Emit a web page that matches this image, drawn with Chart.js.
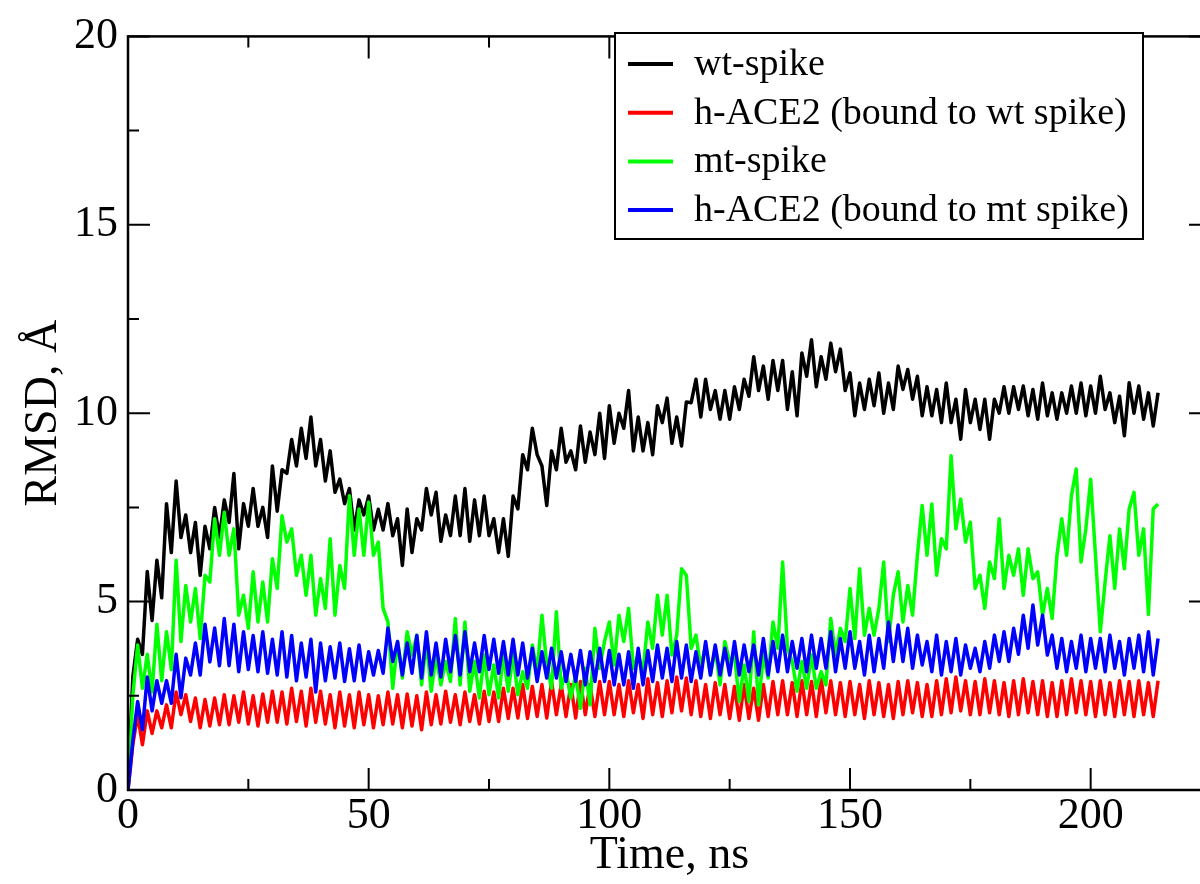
<!DOCTYPE html>
<html>
<head>
<meta charset="utf-8">
<script src="https://cdn.jsdelivr.net/npm/chart.js@4"></script>
<style>
  html, body { margin: 0; padding: 0; background: #fff; overflow: hidden; }
  #wrap { width: 1240px; height: 884px; }
</style>
</head>
<body>
<div id="wrap"><canvas id="rmsdChart" width="1240" height="884"></canvas></div>
<script>
// one sample per ns (upper / lower edge of the noise band)
const timeStepNs = 1;
const xTicks = [0, 50, 100, 150, 200];
const yTicks = [0, 5, 10, 15, 20];
const seriesNames = ['wt-spike', 'h-ACE2 (bound to wt spike)', 'mt-spike', 'h-ACE2 (bound to mt spike)'];
const seriesColors = ['#000000', '#ff0000', '#00ff00', '#0000ff'];

const wtSpike = [
  0, 3.0, 4.0, 3.6, 5.8, 4.5, 6.1, 5.1, 7.6, 6.3,
  8.2, 6.7, 7.3, 6.3, 7.1, 5.7, 7.0, 6.4, 7.5, 6.7,
  7.7, 7.1, 8.4, 6.4, 7.6, 7.0, 8.0, 7.0, 7.5, 6.7,
  8.6, 7.4, 8.5, 8.4, 9.3, 8.6, 9.6, 8.8, 9.9, 8.6,
  9.3, 8.2, 9.0, 7.9, 8.25, 7.6, 8.0, 6.9, 7.7, 7.3,
  7.8, 6.9, 7.45, 6.9, 7.6, 6.75, 7.2, 5.96, 7.46, 6.3,
  7.2, 6.9, 8.0, 7.3, 7.9, 6.6, 7.3, 6.75, 7.8, 6.75,
  8.0, 6.6, 7.7, 6.75, 7.8, 6.75, 7.2, 6.3, 7.2, 6.2,
  7.8, 7.46, 8.9, 8.5, 9.6, 8.9, 8.6, 7.55, 9.0, 8.5,
  9.6, 8.7, 9.0, 8.5, 9.66, 8.7, 9.5, 8.9, 10.0, 8.8,
  10.2, 9.2, 10.0, 9.6, 10.6, 9.0, 9.9, 9.0, 9.75, 8.9,
  10.2, 9.75, 10.4, 9.2, 9.9, 9.13, 10.3, 10.28, 10.9, 9.9,
  10.9, 10.1, 10.6, 9.84, 10.6, 9.84, 10.7, 10.1, 10.9, 10.45,
  11.5, 10.6, 11.25, 10.37, 11.4, 10.6, 11.4, 10.1, 11.1, 9.93,
  11.6, 10.98, 11.95, 10.7, 11.5, 10.9, 11.86, 11.1, 11.7, 10.6,
  11.07, 9.93, 10.8, 10.1, 10.9, 10.2, 11.07, 10.0, 10.8, 10.1,
  11.25, 10.63, 11.16, 10.37, 10.98, 9.93, 10.7, 9.93, 10.63, 9.75,
  10.8, 9.75, 10.37, 9.31, 10.63, 9.75, 10.37, 9.57, 10.37, 9.31,
  10.37, 10.0, 10.7, 10.0, 10.7, 10.1, 10.72, 9.93, 10.63, 9.84,
  10.8, 9.93, 10.54, 9.84, 10.54, 10.0, 10.72, 10.0, 10.8, 9.93,
  10.72, 10.0, 10.98, 10.1, 10.54, 9.75, 10.45, 9.4, 10.81, 10.0,
  10.72, 9.84, 10.54, 9.66, 10.54
];

const aceWt = [
  0, 1.2, 2.0, 1.2, 2.1, 1.5, 2.1, 1.65, 2.26, 1.65,
  2.6, 2.0, 2.53, 1.82, 2.44, 1.65, 2.4, 1.7, 2.44, 1.73,
  2.53, 1.73, 2.5, 1.8, 2.6, 1.75, 2.5, 1.7, 2.55, 1.8,
  2.62, 1.8, 2.6, 1.75, 2.7, 1.82, 2.62, 1.7, 2.7, 1.8,
  2.62, 1.75, 2.53, 1.65, 2.6, 1.7, 2.53, 1.65, 2.6, 1.73,
  2.53, 1.65, 2.5, 1.73, 2.6, 1.75, 2.53, 1.65, 2.55, 1.7,
  2.5, 1.6, 2.6, 1.73, 2.53, 1.75, 2.62, 1.8, 2.53, 1.73,
  2.6, 1.82, 2.53, 1.75, 2.62, 1.82, 2.6, 1.82, 2.7, 1.9,
  2.7, 1.91, 2.8, 1.9, 2.75, 1.95, 2.8, 1.91, 2.88, 2.0,
  2.79, 1.95, 2.8, 1.91, 2.88, 2.0, 2.79, 1.95, 2.88, 2.0,
  2.88, 2.0, 2.8, 1.95, 2.9, 2.05, 2.8, 1.9, 2.95, 2.0,
  2.85, 1.95, 2.9, 2.05, 3.0, 2.1, 2.97, 2.0, 2.9, 1.95,
  2.8, 1.9, 2.85, 2.0, 2.8, 1.9, 2.75, 1.85, 2.8, 1.9,
  2.7, 1.85, 2.8, 1.95, 2.88, 2.0, 2.9, 2.0, 2.85, 1.95,
  2.9, 2.0, 2.88, 1.95, 2.95, 2.05, 2.9, 2.0, 2.85, 1.95,
  2.88, 2.0, 2.8, 1.9, 2.9, 2.0, 2.85, 1.95, 2.8, 1.9,
  2.88, 2.0, 2.9, 2.05, 2.85, 1.95, 2.8, 1.95, 2.9, 2.0,
  2.95, 2.05, 3.0, 2.1, 2.9, 2.0, 2.88, 2.0, 2.95, 2.05,
  2.9, 2.0, 2.85, 1.95, 2.9, 2.0, 2.95, 2.05, 2.88, 2.0,
  2.9, 1.95, 2.85, 1.95, 2.9, 2.0, 2.95, 2.05, 2.9, 2.0,
  2.88, 1.95, 2.9, 2.0, 2.85, 1.95, 2.9, 2.0, 2.88, 1.95,
  2.9, 2.0, 2.85, 1.95, 2.9
];

const mtSpike = [
  0, 2.5, 3.85, 2.7, 3.6, 2.6, 4.4, 2.9, 4.2, 3.2,
  6.1, 3.94, 5.43, 4.46, 5.35, 4.02, 5.7, 5.52, 7.2, 6.23,
  7.37, 6.23, 6.93, 4.64, 5.17, 4.29, 5.79, 4.46, 5.52, 4.46,
  6.14, 5.35, 7.28, 6.58, 6.93, 5.7, 6.23, 5.17, 6.23, 4.64,
  5.61, 4.82, 6.67, 4.64, 5.96, 5.35, 7.81, 6.23, 7.46, 6.23,
  7.64, 6.23, 6.58, 4.82, 4.46, 2.7, 3.94, 2.97, 4.2, 3.58,
  4.11, 2.79, 3.94, 2.62, 3.58, 2.79, 3.41, 2.88, 4.55, 2.79,
  4.46, 2.62, 3.41, 2.44, 3.58, 2.53, 3.32, 2.44, 3.58, 2.62,
  3.58, 2.53, 3.14, 2.7, 3.85, 3.14, 4.64, 3.32, 2.7, 4.73,
  2.7, 3.14, 2.44, 3.05, 2.17, 3.23, 2.26, 4.29, 3.23, 3.94,
  4.46, 3.32, 4.64, 3.94, 4.82, 3.23, 3.58, 3.14, 4.46, 3.76,
  5.17, 4.11, 5.17, 3.58, 4.11, 5.87, 5.7, 3.76, 4.11, 3.23,
  3.85, 3.05, 3.76, 2.79, 3.94, 3.41, 3.58, 2.35, 3.32, 2.35,
  4.2, 2.26, 3.58, 2.97, 4.46, 3.76, 6.05, 3.76, 3.41, 2.62,
  3.41, 2.7, 3.58, 2.7, 3.14, 2.79, 4.55, 3.58, 4.29, 3.94,
  5.35, 4.02, 5.87, 4.11, 4.82, 4.11, 4.82, 6.05, 3.94, 5.17,
  5.79, 4.46, 5.43, 4.64, 6.23, 7.55, 6.23, 7.59, 5.7, 6.67,
  6.4, 8.87, 6.93, 7.72, 6.58, 7.11, 5.35, 5.7, 4.82, 6.05,
  5.61, 7.2, 5.35, 6.23, 5.7, 6.4, 5.17, 6.4, 5.61, 5.79,
  4.64, 5.35, 4.55, 6.23, 7.2, 6.23, 7.81, 8.52, 6.05, 6.93,
  8.25, 6.23, 4.2, 5.52, 6.75, 5.35, 6.93, 5.87, 7.46, 7.9,
  6.23, 6.93, 4.66, 7.46, 7.59
];

const aceMt = [
  0, 1.3, 2.35, 1.6, 3.0, 2.1, 2.9, 2.3, 2.9, 2.3,
  3.6, 2.45, 3.5, 3.05, 3.9, 3.05, 4.4, 3.4, 4.3, 3.3,
  4.55, 3.3, 4.4, 3.14, 4.2, 3.2, 4.1, 3.14, 4.2, 3.1,
  4.0, 3.05, 4.2, 3.0, 4.1, 2.9, 3.9, 3.0, 4.0, 2.6,
  3.9, 2.9, 3.8, 2.97, 3.9, 2.88, 3.75, 2.9, 3.85, 2.9,
  3.67, 3.05, 3.7, 3.1, 4.3, 3.41, 3.94, 3.05, 3.9, 3.1,
  4.1, 2.97, 4.2, 3.05, 3.9, 3.0, 4.0, 3.14, 4.1, 3.05,
  4.2, 3.14, 3.9, 3.14, 4.1, 3.2, 4.0, 3.1, 3.94, 3.05,
  4.0, 3.05, 3.9, 2.97, 3.76, 2.88, 3.67, 2.97, 3.76, 2.97,
  3.67, 2.88, 3.6, 2.88, 3.7, 2.79, 3.67, 2.88, 3.76, 2.88,
  3.7, 2.79, 3.6, 2.79, 3.67, 2.7, 3.76, 2.79, 3.7, 2.88,
  3.85, 2.97, 3.76, 2.88, 3.94, 2.97, 3.85, 2.88, 3.67, 2.97,
  3.94, 3.05, 3.85, 3.05, 3.76, 3.05, 3.94, 3.05, 3.85, 3.14,
  3.85, 3.05, 4.02, 3.05, 3.94, 3.14, 4.11, 3.14, 3.94, 3.23,
  4.02, 3.14, 4.11, 3.23, 4.02, 3.23, 4.2, 3.14, 4.02, 3.23,
  4.2, 3.23, 3.94, 3.05, 4.11, 3.14, 4.02, 3.23, 4.46, 3.41,
  4.38, 3.41, 4.29, 3.23, 4.11, 3.32, 3.94, 3.14, 4.11, 3.05,
  3.94, 3.14, 4.02, 3.05, 3.85, 3.23, 3.76, 3.14, 3.94, 3.23,
  4.11, 3.41, 4.2, 3.41, 4.29, 3.6, 4.64, 3.76, 4.91, 3.85,
  4.64, 3.58, 4.11, 3.23, 4.02, 3.14, 3.94, 3.23, 4.11, 3.14,
  4.02, 3.23, 4.02, 3.14, 4.11, 3.23, 3.94, 3.05, 4.02, 3.23,
  4.11, 3.14, 4.2, 3.05, 4.02
];

const serifFont = "'Liberation Serif', 'DejaVu Serif', serif";

function toPoints(values) {
  return values.map((v, i) => ({ x: i * timeStepNs, y: v }));
}

// xmgrace style frame with inward ticks on all four sides
const graceFrame = {
  id: 'graceFrame',
  afterDraw(chart) {
    const { ctx, chartArea: a, scales } = chart;
    const xs = scales.x, ys = scales.y;
    ctx.save();
    ctx.strokeStyle = '#000';
    ctx.lineWidth = 2;
    ctx.beginPath();
    for (let v = xs.min; v <= xs.max + 0.001; v += 25) {
      const len = xTicks.includes(v) ? 22 : 11;
      const px = xs.getPixelForValue(v);
      ctx.moveTo(px, a.bottom); ctx.lineTo(px, a.bottom - len);
      ctx.moveTo(px, a.top); ctx.lineTo(px, a.top + len);
    }
    for (let v = ys.min; v <= ys.max + 0.001; v += 2.5) {
      const len = yTicks.includes(v) ? 22 : 11;
      const py = ys.getPixelForValue(v);
      ctx.moveTo(a.left, py); ctx.lineTo(a.left + len, py);
      ctx.moveTo(a.right, py); ctx.lineTo(a.right - len, py);
    }
    ctx.stroke();
    ctx.lineWidth = 2.5;
    ctx.strokeRect(a.left, a.top, a.right - a.left, a.bottom - a.top);

    // legend box, top right
    const box = { left: 615, top: 33, right: 1143, bottom: 239 };
    ctx.fillStyle = '#fff';
    ctx.fillRect(box.left, box.top, box.right - box.left, box.bottom - box.top);
    ctx.lineWidth = 2;
    ctx.strokeRect(box.left, box.top, box.right - box.left, box.bottom - box.top);
    ctx.font = '38px ' + serifFont;
    ctx.textBaseline = 'middle';
    ctx.textAlign = 'left';
    chart.data.datasets.forEach((ds, i) => {
      const y = 64 + i * 48.7;
      ctx.strokeStyle = ds.borderColor;
      ctx.lineWidth = 4;
      ctx.beginPath();
      ctx.moveTo(628, y); ctx.lineTo(673, y);
      ctx.stroke();
      ctx.fillStyle = '#000';
      ctx.fillText(ds.label, 694, y + 1);
    });
    ctx.restore();
  }
};

const series = [wtSpike, aceWt, mtSpike, aceMt];
const drawOrder = [3, 2, 1, 0]; // blue ends up on top, black underneath

new Chart(document.getElementById('rmsdChart'), {
  type: 'line',
  data: {
    datasets: series.map((values, i) => ({
      label: seriesNames[i],
      data: toPoints(values),
      borderColor: seriesColors[i],
      backgroundColor: seriesColors[i],
      borderWidth: 3.5,
      borderJoinStyle: 'round',
      pointRadius: 0,
      tension: 0,
      order: drawOrder[i]
    }))
  },
  options: {
    responsive: false,
    devicePixelRatio: 1,
    animation: false,
    layout: { padding: { top: 32, right: 29, left: 0, bottom: 0 } },
    plugins: {
      legend: { display: false },
      tooltip: { enabled: false }
    },
    scales: {
      x: {
        type: 'linear',
        min: 0,
        max: 225,
        afterBuildTicks: scale => { scale.ticks = xTicks.map(v => ({ value: v })); },
        afterFit: scale => { scale.height = 94; },
        grid: { display: false, drawTicks: false },
        border: { display: false },
        ticks: { color: '#000', padding: 0, maxRotation: 0, font: { family: serifFont, size: 44 } },
        title: {
          display: true,
          text: 'Time, ns',
          color: '#000',
          padding: { top: 0, bottom: 0 },
          font: { family: serifFont, size: 46 }
        }
      },
      y: {
        min: 0,
        max: 20,
        afterBuildTicks: scale => { scale.ticks = yTicks.map(v => ({ value: v })); },
        afterFit: scale => { scale.width = 128; },
        grid: { display: false, drawTicks: false },
        border: { display: false },
        ticks: { color: '#000', padding: 10, font: { family: serifFont, size: 44 } },
        title: {
          display: true,
          text: 'RMSD, Å',
          color: '#000',
          padding: { top: 16, bottom: 0 },
          font: { family: serifFont, size: 46 }
        }
      }
    }
  },
  plugins: [graceFrame]
});
</script>
</body>
</html>
